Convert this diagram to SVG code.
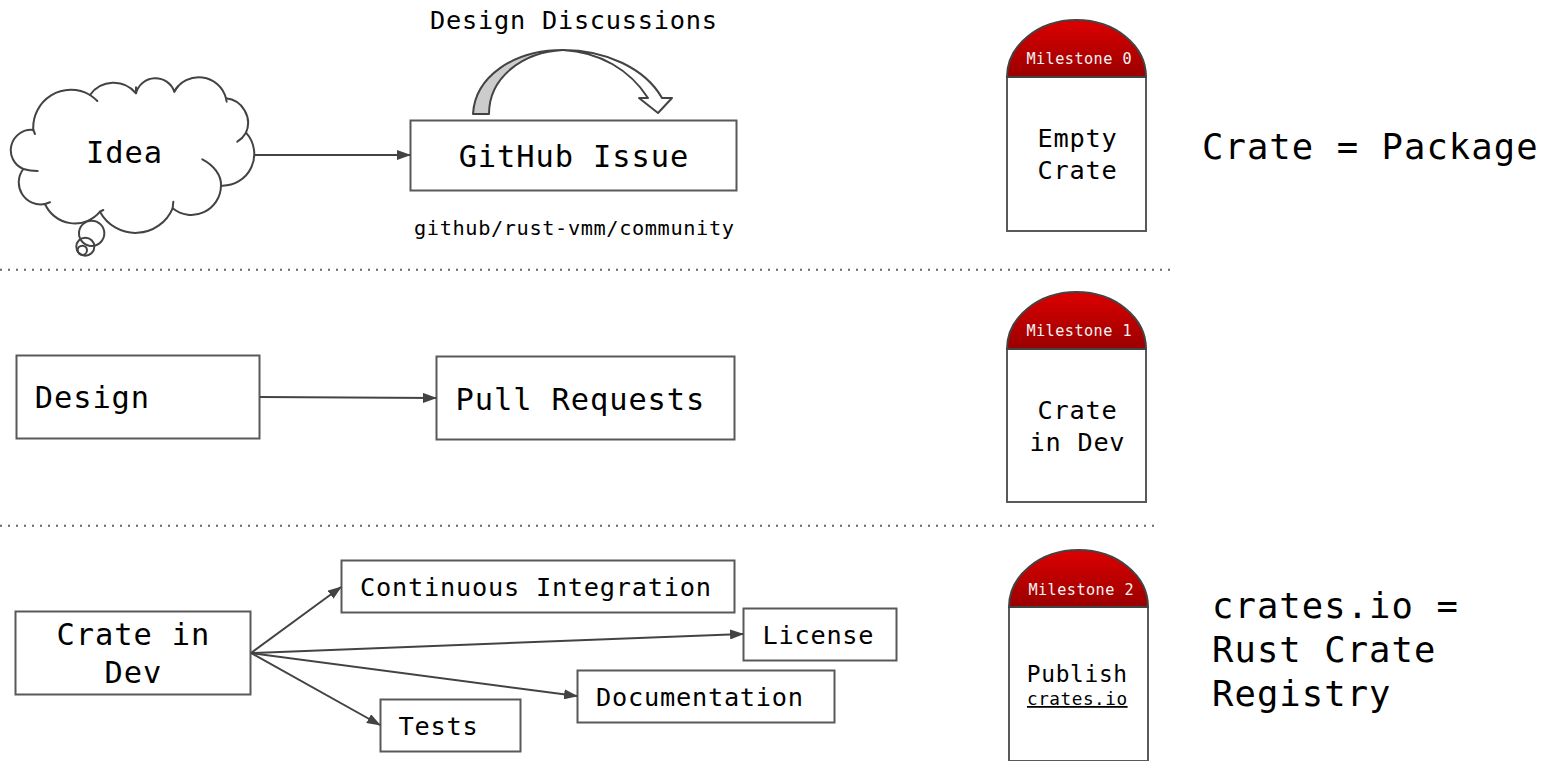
<svg xmlns="http://www.w3.org/2000/svg" width="1541" height="761" viewBox="0 0 1541 761">
<style>
text{font-family:"DejaVu Sans Mono","Liberation Mono",monospace;fill:#000;text-anchor:middle;letter-spacing:.03em}
.b{fill:#fff;stroke:#595959;stroke-width:2}
.c{fill:none;stroke:#434343;stroke-width:2}
.k{fill:none;stroke:#434343;stroke-width:6;stroke-linecap:round}
.d{fill:none;stroke:#666;stroke-width:2;stroke-dasharray:2 6}
.s{font-size:30.4px}.m{font-size:25.3px}.l{font-size:35.5px;text-anchor:start}
.t{font-size:15.2px;fill:#f3f3f3}
</style>
<defs>
<linearGradient id="red" x1="0" y1="0" x2="0" y2="1"><stop offset="0" stop-color="#dd0000"/><stop offset="1" stop-color="#990000"/></linearGradient>
<marker id="ah" markerWidth="14" markerHeight="10" refX="13" refY="5" orient="auto" markerUnits="userSpaceOnUse"><path d="M0,0L14,5L0,10Z" fill="#434343"/></marker>
</defs>
<rect width="1541" height="761" fill="#fff"/>
<g id="separators">
<path class="d" d="M0,269.700H1170"/>
<path class="d" d="M0,525.700H1158"/>
</g>
<g id="idea">
<g transform="translate(0,70) scale(.3333)">
<path d="M100,180A61,61 0 0 0 70,297A66,66 0 0 0 135,402A98,98 0 0 0 300,425A121,121 0 0 0 518,415A89,89 0 0 0 663,347A95,95 0 0 0 738,188A74,74 0 0 0 678,85A84,84 0 0 0 523,65A60,60 0 0 0 408,70A87,87 0 0 0 270,75A113,113 0 0 0 100,180Z" fill="#fff" stroke="#434343" stroke-width="6" stroke-linejoin="round"/>
<path class="k" d="M100,180L105,192M70,297Q90,303 113,303M135,402L150,397M300,425L310,420M518,415L520,395M663,347C665,315 640,285 607,268M738,188Q728,205 712,215M678,85L680,95M523,65Q528,55 535,48M408,70L408,52M270,75Q282,83 292,93"/>
<circle class="k" cx="275" cy="490" r="38"/>
<circle class="k" cx="256" cy="530" r="27"/>
<circle class="k" cx="247" cy="541" r="14"/>
</g>
<text class="s" x="124.500" y="163">Idea</text>
</g>
<g id="github-issue">
<rect class="b" x="410.500" y="120.500" width="326" height="70"/>
<text class="s" x="573.900" y="167">GitHub Issue</text>
</g>
<g id="design-discussions-arrow" stroke="#434343" stroke-width="2" stroke-linejoin="round">
<path d="M473,114C475,77 513,50 563,50C523,52 489,77 489,114Z" fill="#ccc"/>
<path d="M563,50C605,50 645,68 662,98L672,98L658,113L639,98L648,98C630,70 600,52 563,50Z" fill="#fff"/>
</g>
<g id="design"><rect class="b" x="16.500" y="355.500" width="243" height="83"/><text class="s" x="92.400" y="408">Design</text></g>
<g id="pull-requests"><rect class="b" x="436.500" y="356.500" width="298" height="83"/><text class="s" x="580.400" y="410">Pull Requests</text></g>
<g id="crate-in-dev"><rect class="b" x="15.500" y="611.500" width="235" height="83"/><text class="s" x="133.400" y="645">Crate in</text><text class="s" x="133.400" y="683">Dev</text></g>
<g id="continuous-integration"><rect class="b" x="341.500" y="560.500" width="393" height="52"/><text class="m" x="535.900" y="596">Continuous Integration</text></g>
<g id="license"><rect class="b" x="743.500" y="608.500" width="153" height="52"/><text class="m" x="818.400" y="644">License</text></g>
<g id="documentation"><rect class="b" x="577.500" y="670.500" width="257" height="52"/><text class="m" x="699.900" y="706">Documentation</text></g>
<g id="tests"><rect class="b" x="380.500" y="699.500" width="140" height="52"/><text class="m" x="438.400" y="735">Tests</text></g>
<g id="connectors">
<path class="c" marker-end="url(#ah)" d="M254,155H410"/>
<path class="c" marker-end="url(#ah)" d="M260,397L436,398"/>
<path class="c" marker-end="url(#ah)" d="M251,653L341,587"/>
<path class="c" marker-end="url(#ah)" d="M251,653L743,634"/>
<path class="c" marker-end="url(#ah)" d="M251,653L577,696"/>
<path class="c" marker-end="url(#ah)" d="M251,653L380,725"/>
</g>
<g id="milestone-0">
<rect class="b" x="1007" y="77" width="139" height="154"/>
<path d="M1007,77A69.500,57 0 0 1 1146,77Z" fill="url(#red)" stroke="#434343" stroke-width="2"/>
<text class="t" x="1079.200" y="64">Milestone 0</text>
<text class="m" x="1077.400" y="147">Empty</text><text class="m" x="1077.400" y="179">Crate</text>
</g>
<g id="milestone-1">
<rect class="b" x="1007" y="349" width="139" height="153"/>
<path d="M1007,349A69.500,57 0 0 1 1146,349Z" fill="url(#red)" stroke="#434343" stroke-width="2"/>
<text class="t" x="1079.200" y="336">Milestone 1</text>
<text class="m" x="1077.400" y="419">Crate</text><text class="m" x="1077.400" y="451">in Dev</text>
</g>
<g id="milestone-2">
<rect class="b" x="1009" y="607" width="139" height="154"/>
<path d="M1009,607A69.500,57 0 0 1 1148,607Z" fill="url(#red)" stroke="#434343" stroke-width="2"/>
<text class="t" x="1081.200" y="595">Milestone 2</text>
<text x="1077.300" y="682" font-size="22.800">Publish</text>
<text x="1077.300" y="705" font-size="17.700" text-decoration="underline">crates.io</text>
</g>
<g id="labels">
<text class="m" x="573.900" y="29">Design Discussions</text>
<text x="574.300" y="235" font-size="20.300">github/rust-vmm/community</text>
<text class="l" x="1202" y="159">Crate = Package</text>
<text class="l" x="1212" y="618">crates.io =</text>
<text class="l" x="1212" y="662">Rust Crate</text>
<text class="l" x="1212" y="706">Registry</text>
</g>
</svg>
